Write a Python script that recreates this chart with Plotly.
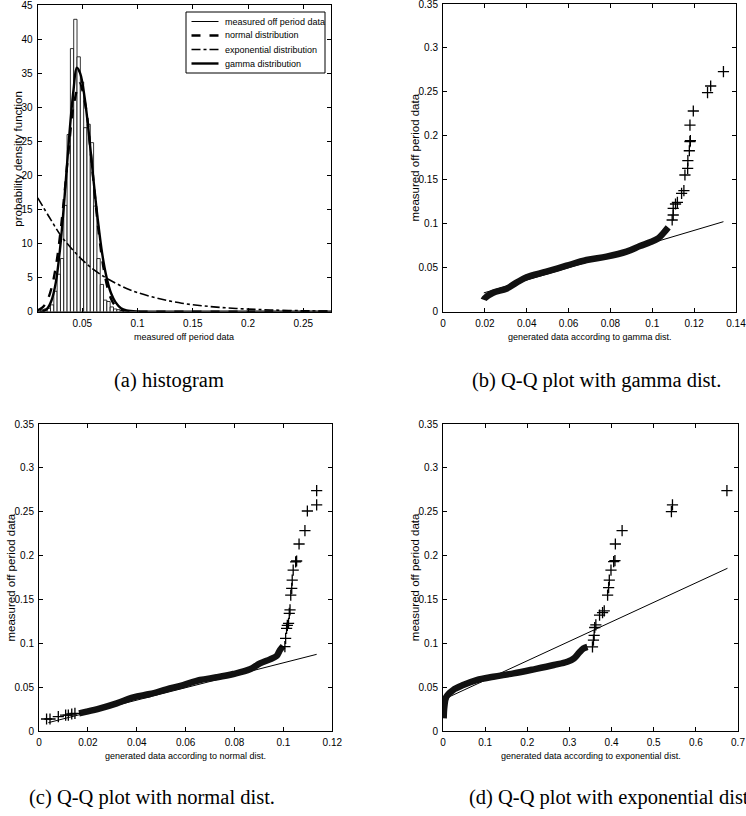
import plotly.graph_objects as go

W, H = 746, 816

# ---------------- data: (a) histogram ----------------
hist_centers = [0.0137, 0.0167, 0.0197, 0.0227, 0.0257, 0.0287, 0.0317, 0.0347, 0.0377,
                0.0407, 0.0437, 0.0467, 0.0497, 0.0527, 0.0557, 0.0587, 0.0617, 0.0647,
                0.0677, 0.0707, 0.0737, 0.0767, 0.0797, 0.0827, 0.0857]
hist_density = [0.3, 0.4, 0.5, 1.0, 3.0, 5.5, 7.8, 15.6, 26.0,
                38.6, 42.9, 37.4, 33.7, 27.0, 27.5, 24.8, 15.5, 7.8,
                4.0, 1.7, 1.5, 0.7, 0.4, 0.3, 0.2]

normal_x = [0.0096, 0.014, 0.018, 0.022, 0.026, 0.030, 0.034, 0.038, 0.042, 0.0475,
            0.053, 0.057, 0.061, 0.065, 0.069, 0.073, 0.077, 0.082, 0.088, 0.095,
            0.11, 0.14, 0.2, 0.275]
normal_y = [0.21, 0.64, 1.55, 3.4, 6.6, 11.4, 17.6, 24.4, 30.1, 33.5,
            30.1, 24.4, 17.6, 11.4, 6.6, 3.4, 1.55, 0.5, 0.1, 0.02,
            0.0, 0.0, 0.0, 0.0]

expo_x = [0.0096, 0.02, 0.03, 0.04, 0.05, 0.06, 0.07, 0.08, 0.09, 0.1, 0.12, 0.14,
          0.16, 0.18, 0.2, 0.22, 0.25, 0.275]
expo_y = [16.7, 13.9, 11.3, 9.3, 7.6, 6.2, 5.1, 4.2, 3.4, 2.8, 1.9, 1.25,
          0.85, 0.57, 0.38, 0.26, 0.14, 0.09]

gamma_x = [0.0096, 0.014, 0.018, 0.022, 0.026, 0.030, 0.034, 0.038, 0.042, 0.045,
           0.048, 0.052, 0.056, 0.060, 0.064, 0.068, 0.072, 0.076, 0.080, 0.085,
           0.09, 0.1, 0.11, 0.275]
gamma_y = [0.0, 0.05, 0.4, 1.6, 4.3, 9.5, 17.0, 25.5, 32.5, 35.8,
           35.0, 31.5, 26.0, 19.5, 13.5, 8.5, 5.0, 2.7, 1.4, 0.5,
           0.2, 0.03, 0.0, 0.0]

# ---------------- data: (b) Q-Q gamma ----------------
qg_band_x = [0.0195, 0.0199, 0.0239, 0.0303, 0.0351, 0.0399, 0.0494, 0.059, 0.0686,
             0.0781, 0.0877, 0.0941, 0.0989, 0.1028, 0.1052, 0.1076]
qg_band_y = [0.0135, 0.0152, 0.0216, 0.0262, 0.033, 0.0391, 0.0455, 0.0523, 0.0588,
             0.0626, 0.0683, 0.0747, 0.0789, 0.0834, 0.0891, 0.0959]
qg_out_x = [0.1095, 0.110, 0.110, 0.1111, 0.112, 0.114, 0.1151, 0.1156, 0.1169,
            0.117, 0.1177, 0.118, 0.1182, 0.118, 0.1196, 0.1264, 0.1279, 0.134]
qg_out_y = [0.1043, 0.110, 0.1175, 0.1225, 0.1244, 0.1346, 0.1377, 0.1555, 0.163,
            0.1718, 0.1831, 0.1934, 0.1945, 0.2123, 0.2283, 0.2491, 0.2567, 0.273]
qg_ref_x = [0.0195, 0.134]
qg_ref_y = [0.0214, 0.1024]

# ---------------- data: (c) Q-Q normal ----------------
qn_band_x = [0.0164, 0.0195, 0.025, 0.0318, 0.0386, 0.0454, 0.0522, 0.059, 0.0659,
             0.0727, 0.0795, 0.0863, 0.0904, 0.0945, 0.0972, 0.0986, 0.0999]
qn_band_y = [0.0201, 0.022, 0.0258, 0.0315, 0.0384, 0.0422, 0.0475, 0.0524, 0.0581,
             0.0612, 0.065, 0.0703, 0.0771, 0.0817, 0.0855, 0.0923, 0.0969]
qn_out_x = [0.0031, 0.0045, 0.0079, 0.0109, 0.012, 0.0134, 0.0147,
            0.1006, 0.1009, 0.1013, 0.1016, 0.1021, 0.1024, 0.1027, 0.103, 0.1034,
            0.1036, 0.104, 0.105, 0.1054, 0.1064, 0.1088, 0.1098, 0.1136, 0.1136]
qn_out_y = [0.0137, 0.0137, 0.0163, 0.0182, 0.0182, 0.0194, 0.0201,
            0.0961, 0.1056, 0.117, 0.1205, 0.1227, 0.134, 0.138, 0.155, 0.1626,
            0.1721, 0.1835, 0.1927, 0.1938, 0.2132, 0.2284, 0.2508, 0.2577, 0.274]
qn_ref_x = [0.0038, 0.1136]
qn_ref_y = [0.0095, 0.0874]

# ---------------- data: (d) Q-Q exponential ----------------
qe_band_x = [0.0016, 0.0032, 0.008, 0.024, 0.0478, 0.0797, 0.1196, 0.1674, 0.2152,
             0.263, 0.295, 0.3109, 0.3228, 0.333, 0.3427]
qe_band_y = [0.0144, 0.0277, 0.0391, 0.0467, 0.0524, 0.0581, 0.0619, 0.0657, 0.0703,
             0.0752, 0.079, 0.0828, 0.0893, 0.094, 0.096]
qe_out_x = [0.3547, 0.357, 0.3587, 0.36, 0.3627, 0.3715, 0.3786, 0.3826, 0.3906,
            0.393, 0.3946, 0.3986, 0.405, 0.408, 0.409, 0.425, 0.542, 0.5445, 0.6737]
qe_out_y = [0.096, 0.1037, 0.109, 0.118, 0.121, 0.132, 0.135, 0.137, 0.155,
            0.1634, 0.172, 0.1835, 0.193, 0.1942, 0.2132, 0.2284, 0.25, 0.2577, 0.274]
qe_ref_x = [0.0, 0.675]
qe_ref_y = [0.0357, 0.1855]

# ---------------- text ----------------
legend_names = ["measured off period data", "normal distribution",
                "exponential distribution", "gamma distribution"]
xtitles = ["measured off period data", "generated data according to gamma dist.",
           "generated data according to normal dist.",
           "generated data according to exponential dist."]
ytitles = ["probability density function", "measured off period data",
           "measured off period data", "measured off period data"]
captions = ["(a) histogram", "(b) Q-Q plot with gamma dist.",
            "(c) Q-Q plot with normal dist.", "(d) Q-Q plot with exponential dist."]

SANS = "Liberation Sans, Arial, sans-serif"
SERIF = "Liberation Serif, Times New Roman, serif"
BIN_W = 0.003

fig = go.Figure()

# (a)
fig.add_trace(go.Bar(x=hist_centers, y=hist_density, width=BIN_W,
                     marker=dict(color="white", line=dict(color="black", width=0.8)),
                     showlegend=False, xaxis="x", yaxis="y"))
fig.add_trace(go.Scatter(x=normal_x, y=normal_y, mode="lines", showlegend=False,
                         line=dict(color="black", width=2.4, dash="dash", shape="spline"),
                         xaxis="x", yaxis="y"))
fig.add_trace(go.Scatter(x=expo_x, y=expo_y, mode="lines", showlegend=False,
                         line=dict(color="black", width=1.6, dash="dashdot", shape="spline"),
                         xaxis="x", yaxis="y"))
fig.add_trace(go.Scatter(x=gamma_x, y=gamma_y, mode="lines", showlegend=False,
                         line=dict(color="black", width=2.4, shape="spline"),
                         xaxis="x", yaxis="y"))

def qq(axn, bx, by, ox, oy, rx, ry):
    xa, ya = ("x" + axn, "y" + axn)
    fig.add_trace(go.Scatter(x=rx, y=ry, mode="lines", showlegend=False,
                             line=dict(color="black", width=1), xaxis=xa, yaxis=ya))
    fig.add_trace(go.Scatter(x=bx, y=by, mode="lines", showlegend=False,
                             line=dict(color="#111", width=6.5, shape="spline"),
                             xaxis=xa, yaxis=ya))
    fig.add_trace(go.Scatter(x=ox, y=oy, mode="markers", showlegend=False,
                             marker=dict(symbol="cross-thin", size=8,
                                         line=dict(color="black", width=1.3)),
                             xaxis=xa, yaxis=ya))

qq("2", qg_band_x, qg_band_y, qg_out_x, qg_out_y, qg_ref_x, qg_ref_y)
qq("3", qn_band_x, qn_band_y, qn_out_x, qn_out_y, qn_ref_x, qn_ref_y)
qq("4", qe_band_x, qe_band_y, qe_out_x, qe_out_y, qe_ref_x, qe_ref_y)

def px(v):
    return v / W

def py(v):
    return 1 - v / H

boxes = [  # left, right, top, bottom in px
    (37.7, 331.0, 5.0, 311.7),
    (443.0, 736.0, 4.0, 311.7),
    (39.0, 332.3, 424.0, 731.0),
    (443.0, 738.0, 424.0, 731.0),
]
xranges = [[0.0096, 0.2751], [0, 0.14], [0, 0.12], [0, 0.7]]
xdt = [0.05, 0.02, 0.02, 0.1]
yranges = [[0, 45], [0, 0.35], [0, 0.35], [0, 0.35]]
ydt = [5, 0.05, 0.05, 0.05]

axcommon = dict(showline=True, linecolor="black", linewidth=1, mirror="ticks",
                ticks="inside", ticklen=4, tickcolor="black", tickwidth=1,
                showgrid=False, zeroline=False, automargin=False,
                ticklabeloverflow="allow",
                tickfont=dict(family=SANS, size=10, color="black"))

annotations = []
shapes = []
for i, (l, r, t, b) in enumerate(boxes):
    sfx = "" if i == 0 else str(i + 1)
    fig.layout["xaxis" + sfx] = dict(domain=[px(l), px(r)], range=xranges[i],
                                     tick0=0, dtick=xdt[i], anchor="y" + sfx,
                                     ticklabelstandoff=2, **axcommon)
    fig.layout["yaxis" + sfx] = dict(domain=[py(b), py(t)], range=yranges[i],
                                     tick0=0, dtick=ydt[i], anchor="x" + sfx,
                                     ticklabelstandoff=2, **axcommon)
    annotations.append(dict(text=xtitles[i], xref="paper", yref="paper",
                            x=px((l + r) / 2), y=py(b + 25), xanchor="center",
                            yanchor="middle", showarrow=False,
                            font=dict(family=SANS, size=9, color="black")))

ytitle_x = [18.3, 414.7, 10.0, 414.7]
for i, (l, r, t, b) in enumerate(boxes):
    annotations.append(dict(text=ytitles[i], xref="paper", yref="paper",
                            x=px(ytitle_x[i]), y=py((t + b) / 2), textangle=-90,
                            xanchor="center", yanchor="middle", showarrow=False,
                            font=dict(family=SANS, size=11.5, color="black")))

cap_pos = [(112, 380), (470, 380), (27, 797), (467, 797)]
for i, (cx, cy) in enumerate(cap_pos):
    annotations.append(dict(text=captions[i], xref="paper", yref="paper",
                            x=px(cx), y=py(cy), xanchor="left", yanchor="middle",
                            showarrow=False,
                            font=dict(family=SERIF, size=20.5, color="black")))

# legend of panel (a), drawn in paper space
leg_left, leg_right, leg_top, leg_bottom = 186, 325, 12, 73
shapes.append(dict(type="rect", xref="paper", yref="paper",
                   x0=px(leg_left), x1=px(leg_right), y0=py(leg_bottom), y1=py(leg_top),
                   line=dict(color="black", width=1), fillcolor="white", layer="above"))
leg_styles = [dict(width=1, dash="solid"), dict(width=2.4, dash="dash"),
              dict(width=1.6, dash="dashdot"), dict(width=2.4, dash="solid")]
for k, name in enumerate(legend_names):
    yrow = 21.5 + 14 * k
    shapes.append(dict(type="line", xref="paper", yref="paper",
                       x0=px(191.5), x1=px(218.5), y0=py(yrow), y1=py(yrow),
                       line=dict(color="black", **leg_styles[k]), layer="above"))
    annotations.append(dict(text=name, xref="paper", yref="paper",
                            x=px(222.5), y=py(yrow), xanchor="left", yanchor="middle",
                            showarrow=False,
                            font=dict(family=SANS, size=9, color="black")))

fig.update_layout(
    width=W, height=H, margin=dict(l=0, r=0, t=0, b=0),
    paper_bgcolor="white", plot_bgcolor="white",
    barmode="overlay",
    showlegend=False,
    annotations=annotations,
    shapes=shapes,
)

fig.write_html("out.html", config={"displayModeBar": False},
               post_script="document.body.style.margin='0px';document.body.style.padding='0px';")
